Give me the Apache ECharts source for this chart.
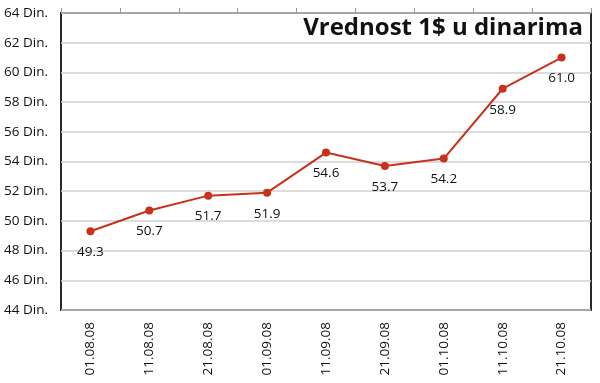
<!DOCTYPE html>
<html><head><meta charset="utf-8">
<script src="https://cdn.jsdelivr.net/npm/echarts@6/dist/echarts.min.js"></script>
<style>html,body{margin:0;padding:0;background:#fff}#c{width:600px;height:383px}</style>
</head><body><div id="c"></div>
<script>
const categories = ['01.08.08','11.08.08','21.08.08','01.09.08','11.09.08','21.09.08','01.10.08','11.10.08','21.10.08'];
const values = [49.3, 50.7, 51.7, 51.9, 54.6, 53.7, 54.2, 58.9, 61.0];
const yMin = 44, yMax = 64, yStep = 2;
const titleText = 'Vrednost 1$ u dinarima';
const unit = ' Din.';

const font = '"Open Sans", "Noto Sans", sans-serif';
const chart = echarts.init(document.getElementById('c'), null, {renderer:'canvas'});
chart.setOption({
  animation:false,
  title:{text:titleText, right:12, top:11, textStyle:{fontFamily:font, fontWeight:'bold', fontSize:24, color:'#111'}},
  grid:{left:61, right:9, top:13, bottom:73, show:true, borderColor:'#2a2a2a', borderWidth:2, containLabel:false},
  xAxis:[{
    type:'category', data:categories, boundaryGap:true, position:'bottom',
    axisLine:{show:false}, axisTick:{show:false},
    axisLabel:{rotate:90, margin:12, interval:0, fontFamily:font, fontSize:13.5, color:'#111'},
    splitLine:{show:false}
  },{
    type:'category', data:categories, boundaryGap:true, position:'top',
    axisLine:{show:false}, axisTick:{show:true, interval:0, inside:false, length:5, lineStyle:{color:'#999', width:1}},
    axisLabel:{show:false}
  }],
  yAxis:{
    type:'value', min:yMin, max:yMax, interval:yStep,
    axisLine:{show:false}, axisTick:{show:false},
    axisLabel:{formatter:v=>v+unit, margin:13, fontFamily:font, fontSize:13.5, color:'#111'},
    splitLine:{show:true, lineStyle:{color:'#d0d0d0', width:1.5}}
  },
  series:[{
    type:'line', data:values, xAxisIndex:0,
    symbol:'circle', symbolSize:8,
    itemStyle:{color:'#c8321c'},
    lineStyle:{color:'#c8321c', width:2},
    label:{show:true, position:'bottom', distance:10, formatter:p=>p.value.toFixed(1), fontFamily:font, fontSize:13.5, color:'#111'}
  }]
});
</script></body></html>
